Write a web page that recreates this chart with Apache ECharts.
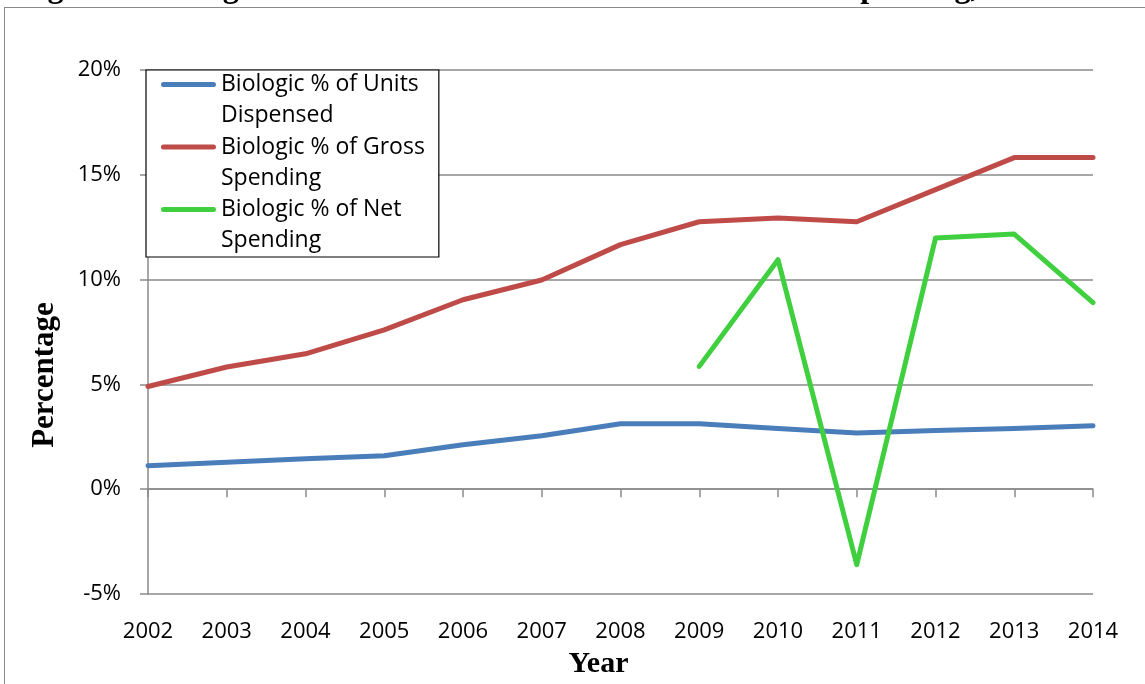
<!DOCTYPE html>
<html>
<head>
<meta charset="utf-8">
<script src="https://cdn.jsdelivr.net/npm/echarts@6/dist/echarts.min.js"></script>
<style>
html,body{margin:0;padding:0;background:#fff;overflow:hidden;}
#chart{position:absolute;left:0;top:0;width:1145px;height:684px;}
#frame{position:absolute;left:4px;top:7px;width:1300px;height:900px;border:1.5px solid #8a8a8a;pointer-events:none;}
</style>
</head>
<body>
<div id="chart"></div>
<div id="frame"></div>
<script>
const titleText = 'Figure 1: Biologics Shares of Medicaid Total Utilization and Spending, 2002-2014';
const years = ['2002','2003','2004','2005','2006','2007','2008','2009','2010','2011','2012','2013','2014'];
const unitsDispensed = [1.12, 1.28, 1.45, 1.6, 2.12, 2.55, 3.12, 3.12, 2.9, 2.68, 2.8, 2.9, 3.03];
const grossSpending = [4.9, 5.83, 6.46, 7.6, 9.04, 9.98, 11.67, 12.76, 12.94, 12.76, 14.29, 15.82, 15.82];
const netSpending = [null, null, null, null, null, null, null, 5.86, 10.95, -3.6, 11.98, 12.17, 8.9];
const seriesNames = ['Biologic % of Units\nDispensed', 'Biologic % of Gross\nSpending', 'Biologic % of Net\nSpending'];
const colors = ['#4a7ebb', '#be4b48', '#40d03f'];
const yTicks = {min: -5, max: 20, interval: 5};

const font = '"Open Sans", sans-serif';
const serif = '"Liberation Serif", "Times New Roman", serif';
const legendIcon = 'path://M2.5,13 L52.5,13 A2.5,2.5 0 0 1 52.5,18 L2.5,18 A2.5,2.5 0 0 1 2.5,13 Z M0,0 L55,0 L55,0.01 L0,0.01 Z M0,62 L55,62 L55,62.01 L0,62.01 Z';

const chart = echarts.init(document.getElementById('chart'), null, {renderer: 'canvas'});
const mk = (i, data) => ({
  name: seriesNames[i], type: 'line', data: data, symbol: 'none',
  connectNulls: false, xAxisIndex: 0, yAxisIndex: 0,
  lineStyle: {color: colors[i], width: 5, cap: 'round', join: 'round'},
  itemStyle: {color: colors[i]}
});
chart.setOption({
  animation: false,
  color: colors,
  title: {
    text: titleText, left: 14, top: -32,
    textStyle: {fontFamily: serif, fontWeight: 'bold', fontSize: 32, color: '#000', lineHeight: 32}
  },
  grid: {left: 148, right: 52, top: 70, bottom: 90, containLabel: false},
  legend: {
    orient: 'vertical', left: 146, top: 70,
    padding: [-1, 14, 1, 15], itemGap: 0.5,
    itemWidth: 55, itemHeight: 62,
    icon: legendIcon,
    itemStyle: {borderWidth: 0},
    backgroundColor: '#fff', borderColor: '#000', borderWidth: 1.2,
    textStyle: {fontFamily: font, fontSize: 23, color: '#000', lineHeight: 31},
    data: seriesNames
  },
  xAxis: [
    {
      type: 'category', data: years, boundaryGap: false, position: 'bottom',
      axisLine: {show: true, onZero: true, lineStyle: {color: '#8a8a8a', width: 1.5}},
      axisTick: {show: true, length: 8, lineStyle: {color: '#8a8a8a', width: 1.5}},
      axisLabel: {show: false}, splitLine: {show: false}
    },
    {
      type: 'category', data: years, boundaryGap: false, position: 'bottom',
      axisLine: {show: false, onZero: false}, axisTick: {show: false},
      axisLabel: {show: true, margin: 27, fontFamily: font, fontSize: 22, color: '#000'},
      splitLine: {show: false},
      name: 'Year', nameLocation: 'middle', nameGap: 55,
      nameTextStyle: {fontFamily: serif, fontWeight: 'bold', fontSize: 30, color: '#000', padding: [0, 44, 0, 0]}
    }
  ],
  yAxis: {
    type: 'value', min: yTicks.min, max: yTicks.max, interval: yTicks.interval,
    axisLine: {show: true, lineStyle: {color: '#8a8a8a', width: 1.5}},
    axisTick: {show: true, length: 8, lineStyle: {color: '#8a8a8a', width: 1.5}},
    splitLine: {show: true, lineStyle: {color: '#8a8a8a', width: 1.5}},
    axisLabel: {margin: 27, fontFamily: font, fontSize: 22, color: '#000', formatter: '{value}%'},
    name: 'Percentage', nameLocation: 'middle', nameGap: 88, nameRotate: 90,
    nameTextStyle: {fontFamily: serif, fontWeight: 'bold', fontSize: 31, color: '#000', padding: [0, 86, 0, 0]}
  },
  series: [mk(0, unitsDispensed), mk(1, grossSpending), mk(2, netSpending)]
});
</script>
</body>
</html>
